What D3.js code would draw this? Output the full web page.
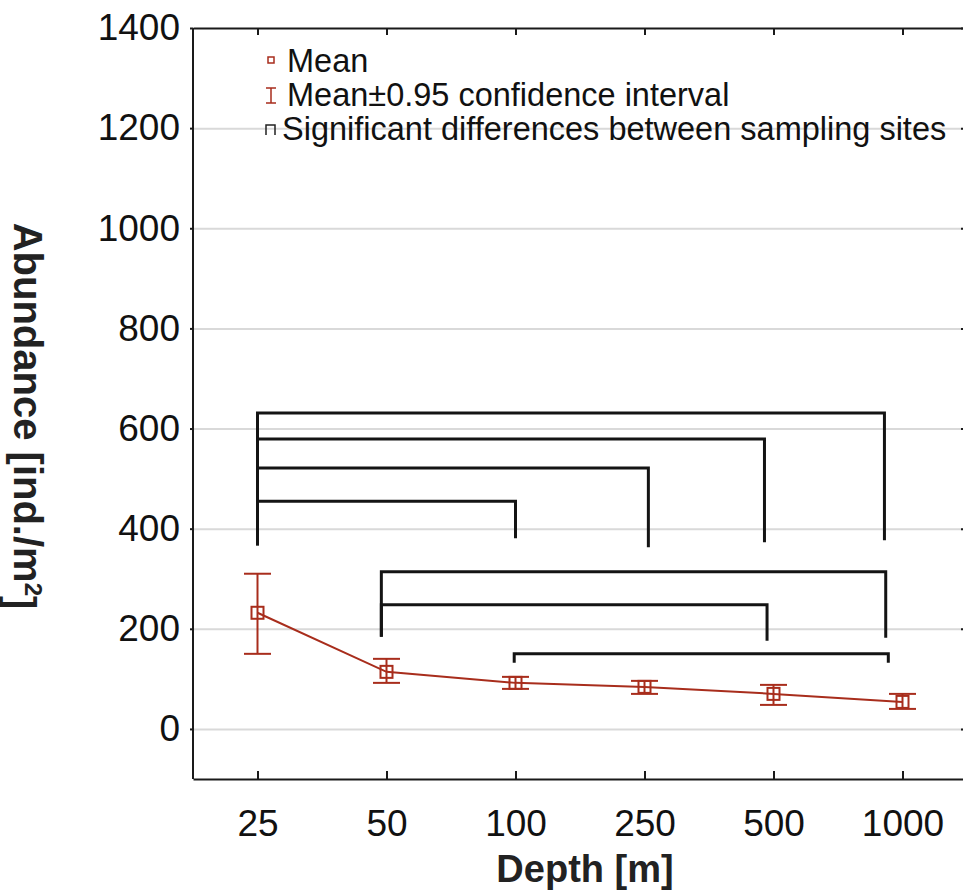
<!DOCTYPE html>
<html>
<head>
    <script src="https://d3js.org/d3.v7.min.js"></script>
    <style>
        body {
            margin: 0;
            background: #fff;
            font-family: "Liberation Sans", Arial, sans-serif;
        }

        .gridlines line {
            stroke: #d9d9d9;
            stroke-width: 2;
        }

        .gridlines .domain {
            stroke: none;
        }

        .axis text {
            font-size: 37px;
            fill: #111;
        }
    </style>
</head>
<body>
    <svg width="963" height="890"></svg>
    <script>
        const width = 963;
        const height = 890;

        // depth categories (x axis)
        const depths = ["25", "50", "100", "250", "500", "1000"];
        // mean abundance and 95% confidence limits
        const means = [232, 114, 92, 84, 70, 54];
        const ciUpper = [310, 140, 104, 96, 88, 70];
        const ciLower = [150, 92, 80, 70, 48, 40];

        const yTicks = [0, 200, 400, 600, 800, 1000, 1200, 1400];

        // significance brackets: from / to as category index, bar level, leg ends
        const bracketFrom = [0, 0, 0, 0, 0.96, 0.96, 1.99];
        const bracketTo = [4.86, 3.93, 3.03, 2.0, 4.87, 3.95, 4.89];
        const bracketLevel = [631, 579, 521, 455, 314, 248, 150];
        const bracketLeftEnd = [367, 367, 367, 367, 184, 184, 132];
        const bracketRightEnd = [377, 373, 363, 381, 182, 176, 132];

        const red = "#a82d1c";

        const plotLeft = 193, plotRight = 967, plotTop = 28, plotBottom = 779;

        const svg = d3.select("svg");

        const x = d3.scalePoint()
            .domain(depths)
            .range([plotLeft, plotRight])
            .padding(0.5);

        const xi = d3.scaleLinear()
            .domain([0, depths.length - 1])
            .range([x(depths[0]), x(depths[depths.length - 1])]);

        const y = d3.scaleLinear()
            .domain([-100, 1400])
            .range([plotBottom, plotTop]);

        // gridlines
        svg.append("g")
            .attr("class", "gridlines")
            .attr("transform", `translate(${plotLeft},0)`)
            .call(d3.axisLeft(y).tickValues(yTicks.slice(0, -1)).tickSize(-(plotRight - plotLeft)).tickFormat(""));

        // frame: left, bottom, top, right axes
        svg.append("g")
            .attr("class", "axis")
            .attr("transform", `translate(${plotLeft},0)`)
            .call(d3.axisLeft(y).tickValues(yTicks).tickFormat(d3.format("d")).tickSize(3).tickPadding(10))
            .call(g => g.selectAll("line, .domain").attr("stroke", "#1a1a1a").attr("stroke-width", 2))
            .call(g => g.select(".domain").attr("d", `M0,${plotTop}V${plotBottom}`));

        svg.append("g")
            .attr("class", "axis")
            .attr("transform", `translate(0,${plotBottom})`)
            .call(d3.axisBottom(x).tickSizeInner(-8).tickSizeOuter(0).tickPadding(31))
            .call(g => g.selectAll("line, .domain").attr("stroke", "#1a1a1a").attr("stroke-width", 2))
            .call(g => g.selectAll("text").attr("dy", "0.71em"));

        svg.append("g")
            .attr("transform", `translate(0,${plotTop})`)
            .call(d3.axisTop(x).tickSizeInner(-7).tickSizeOuter(0).tickFormat(""))
            .call(g => g.selectAll("line, .domain").attr("stroke", "#1a1a1a").attr("stroke-width", 2));

        svg.append("g")
            .attr("transform", `translate(${plotRight},0)`)
            .call(d3.axisRight(y).tickValues(yTicks).tickSizeInner(-6).tickSizeOuter(0).tickFormat(""))
            .call(g => g.selectAll("line, .domain").attr("stroke", "#1a1a1a").attr("stroke-width", 2));

        // brackets
        const brackets = bracketFrom.map((f, i) => ({
            from: f, to: bracketTo[i], level: bracketLevel[i],
            leftEnd: bracketLeftEnd[i], rightEnd: bracketRightEnd[i]
        }));

        svg.append("g")
            .selectAll("path")
            .data(brackets)
            .join("path")
            .attr("d", d => `M${xi(d.from)},${y(d.leftEnd)}V${y(d.level)}H${xi(d.to)}V${y(d.rightEnd)}`)
            .attr("fill", "none")
            .attr("stroke", "#141414")
            .attr("stroke-width", 3);

        // mean line
        const pts = depths.map((d, i) => ({ depth: d, mean: means[i], hi: ciUpper[i], lo: ciLower[i] }));

        svg.append("path")
            .datum(pts)
            .attr("d", d3.line().x(d => x(d.depth)).y(d => y(d.mean)))
            .attr("fill", "none")
            .attr("stroke", red)
            .attr("stroke-width", 2);

        // error bars
        const capW = 27;
        const err = svg.append("g")
            .selectAll("g")
            .data(pts)
            .join("g")
            .attr("stroke", red)
            .attr("stroke-width", 2)
            .attr("fill", "none");

        err.append("line")
            .attr("x1", d => x(d.depth)).attr("x2", d => x(d.depth))
            .attr("y1", d => y(d.hi)).attr("y2", d => y(d.lo));
        err.append("line")
            .attr("x1", d => x(d.depth) - capW / 2).attr("x2", d => x(d.depth) + capW / 2)
            .attr("y1", d => y(d.hi)).attr("y2", d => y(d.hi));
        err.append("line")
            .attr("x1", d => x(d.depth) - capW / 2).attr("x2", d => x(d.depth) + capW / 2)
            .attr("y1", d => y(d.lo)).attr("y2", d => y(d.lo));
        err.append("rect")
            .attr("x", d => x(d.depth) - 6).attr("y", d => y(d.mean) - 6)
            .attr("width", 12).attr("height", 12);

        // legend
        const legendX = 287;
        const legend = svg.append("g").style("font-size", "32.5px").attr("fill", "#111");

        legend.append("rect").attr("x", 268).attr("y", 57).attr("width", 6).attr("height", 6)
            .attr("fill", "none").attr("stroke", red).attr("stroke-width", 1.5);
        legend.append("text").attr("x", legendX).attr("y", 61).attr("dy", "0.35em").text("Mean");

        legend.append("path").attr("d", "M266,88H276M271,88V103M266,103H276")
            .attr("fill", "none").attr("stroke", red).attr("stroke-width", 1.5);
        legend.append("text").attr("x", legendX).attr("y", 95).attr("dy", "0.35em").text("Mean±0.95 confidence interval");

        legend.append("path").attr("d", "M266,135V125H275V135")
            .attr("fill", "none").attr("stroke", "#222").attr("stroke-width", 1.5);
        legend.append("text").attr("x", 282).attr("y", 129).attr("dy", "0.35em").text("Significant differences between sampling sites");

        // axis titles
        svg.append("text")
            .attr("x", 585)
            .attr("y", 882)
            .attr("text-anchor", "middle")
            .style("font-size", "38px")
            .style("font-weight", "bold")
            .attr("fill", "#222")
            .text("Depth [m]");

        const yTitle = svg.append("text")
            .attr("transform", "translate(14,416) rotate(90)")
            .attr("text-anchor", "middle")
            .style("font-size", "40px")
            .style("font-weight", "bold")
            .attr("fill", "#222");
        yTitle.append("tspan").text("Abundance [ind./m");
        yTitle.append("tspan").attr("dy", "-0.45em").style("font-size", "24px").text("2");
        yTitle.append("tspan").attr("dy", "0.45em").text("]");
    </script>
</body>
</html>
